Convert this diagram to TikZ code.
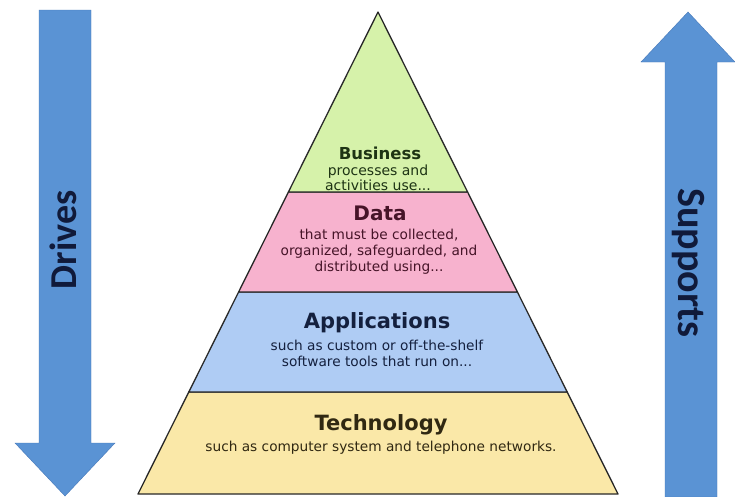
\documentclass[tikz,border=0pt]{standalone}
\usepackage{fontspec}
\setmainfont{DejaVu Sans}
\newfontfamily\arrowfont{Carlito}
\definecolor{arrowblue}{RGB}{90,147,212}
\definecolor{arrowedge}{RGB}{70,120,185}
\definecolor{arrowtext}{RGB}{16,26,58}
\definecolor{layergreen}{RGB}{214,242,170}
\definecolor{layerpink}{RGB}{247,178,206}
\definecolor{layerblue}{RGB}{175,204,244}
\definecolor{layeryellow}{RGB}{250,232,168}
\definecolor{txtgreen}{RGB}{30,52,20}
\definecolor{txtpink}{RGB}{70,20,40}
\definecolor{txtblue}{RGB}{20,32,62}
\definecolor{txtyellow}{RGB}{48,40,18}
\definecolor{outline}{RGB}{40,40,40}
\begin{document}
\begin{tikzpicture}[x=1pt,y=-1pt,
  layer/.style={draw=outline,line width=1.3pt,line join=round},
  bigarrow/.style={fill=arrowblue,draw=arrowedge,line width=0.4pt},
  arrowlabel/.style={font=\arrowfont\bfseries\fontsize{38}{40}\selectfont,text=arrowtext,inner sep=0pt},
  title/.style={font=\bfseries\fontsize{21}{24}\selectfont,inner sep=0pt},
  sub/.style={font=\fontsize{13.7}{16}\selectfont,align=center,inner sep=0pt}]
\useasboundingbox (0,0) rectangle (735,496);
\fill[white] (0,0) rectangle (735,496);
% pyramid key points
\coordinate (apex) at (378,12);
\coordinate (l1) at (288.4,192); \coordinate (r1) at (467.6,192);
\coordinate (l2) at (238.6,292); \coordinate (r2) at (517.4,292);
\coordinate (l3) at (188.8,392); \coordinate (r3) at (567.2,392);
\coordinate (l4) at (138,494);   \coordinate (r4) at (618,494);
% layers
\filldraw[layer,fill=layeryellow] (l3) -- (r3) -- (r4) -- (l4) -- cycle;
\filldraw[layer,fill=layerblue] (l2) -- (r2) -- (r3) -- (l3) -- cycle;
\filldraw[layer,fill=layerpink] (l1) -- (r1) -- (r2) -- (l2) -- cycle;
\filldraw[layer,fill=layergreen] (apex) -- (r1) -- (l1) -- cycle;
% texts
\node[title,text=txtgreen,font=\bfseries\fontsize{16.5}{19}\selectfont] (bt) at (380,153) {Business};
\node[sub,text=txtgreen,font=\fontsize{14}{14.5}\selectfont] (bs) at (378,178) {processes and\\activities use...};
\node[title,text=txtpink,font=\bfseries\fontsize{20}{23}\selectfont] (dt) at (380,213) {Data};
\node[sub,text=txtpink] (ds) at (379,252) {that must be collected,\\organized, safeguarded, and\\distributed using...};
\node[title,text=txtblue] (at) at (377,323) {Applications};
\node[sub,text=txtblue] (as) at (377,353) {such as custom or off-the-shelf\\software tools that run on...};
\node[title,text=txtyellow] (tt) at (381,425) {Technology};
\node[sub,text=txtyellow] (ts) at (381,448) {such as computer system and telephone networks.};
% arrows
\filldraw[bigarrow] (39,10) -- (91,10) -- (91,443) -- (115,443) -- (65,496) -- (15,443) -- (39,443) -- cycle;
\filldraw[bigarrow] (665,497) -- (717,497) -- (717,62) -- (735,62) -- (688,12) -- (641,62) -- (665,62) -- cycle;
\node[arrowlabel,rotate=90] (drives) at (63,240) {Drives};
\node[arrowlabel,rotate=-90,font=\arrowfont\bfseries\fontsize{40}{42}\selectfont] (supports) at (688,263) {Supports};
\end{tikzpicture}
\end{document}
